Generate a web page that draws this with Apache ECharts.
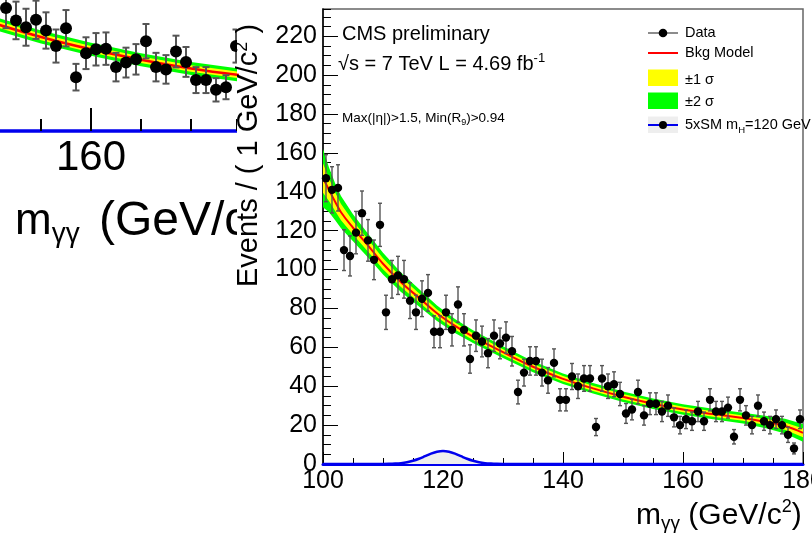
<!DOCTYPE html>
<html>
<head>
<meta charset="utf-8">
<script src="https://cdn.jsdelivr.net/npm/echarts@6/dist/echarts.min.js"></script>
<style>
  html, body { margin: 0; padding: 0; background: #fff; }
  #chart { width: 812px; height: 539px; }
</style>
</head>
<body>
<div id="chart"></div>
<script>
// ---------- main panel: diphoton mass, 1 GeV bins ----------
const massAxis = [100, 180, 20];     // min, max, major step
const eventAxis = [0, 234, 20];      // min, max, major step

const massBins = [
  100.5, 101.5, 102.5, 103.5, 104.5, 105.5, 106.5, 107.5, 108.5, 109.5,
  110.5, 111.5, 112.5, 113.5, 114.5, 115.5, 116.5, 117.5, 118.5, 119.5,
  120.5, 121.5, 122.5, 123.5, 124.5, 125.5, 126.5, 127.5, 128.5, 129.5,
  130.5, 131.5, 132.5, 133.5, 134.5, 135.5, 136.5, 137.5, 138.5, 139.5,
  140.5, 141.5, 142.5, 143.5, 144.5, 145.5, 146.5, 147.5, 148.5, 149.5,
  150.5, 151.5, 152.5, 153.5, 154.5, 155.5, 156.5, 157.5, 158.5, 159.5,
  160.5, 161.5, 162.5, 163.5, 164.5, 165.5, 166.5, 167.5, 168.5, 169.5,
  170.5, 171.5, 172.5, 173.5, 174.5, 175.5, 176.5, 177.5, 178.5, 179.5
];
const events = [
  147, 141, 142, 110, 107, 119, 129, 115, 105, 123,
  78, 95, 97, 95, 84, 78, 85, 88, 68, 68,
  78, 69, 82, 69, 54, 66, 63, 57, 66, 62,
  65, 58, 37, 47, 53, 53, 47, 43, 52, 33,
  33, 45, 40, 44, 44, 19, 44, 40, 41, 36,
  26, 28, 37, 25, 31, 31, 27, 30, 24, 20,
  23, 22, 27, 22, 33, 27, 27, 29, 14, 33,
  25, 20, 30, 22, 20, 23, 20, 15, 8, 23
];
const eventErr = [
  12.1, 11.9, 11.9, 10.5, 10.3, 10.9, 11.4, 10.7, 10.2, 11.1,
  8.8, 9.7, 9.8, 9.7, 9.2, 8.8, 9.2, 9.4, 8.2, 8.2,
  8.8, 8.3, 9.1, 8.3, 7.3, 8.1, 7.9, 7.5, 8.1, 7.9,
  8.1, 7.6, 6.1, 6.9, 7.3, 7.3, 6.9, 6.6, 7.2, 5.7,
  5.7, 6.7, 6.3, 6.6, 6.6, 4.4, 6.6, 6.3, 6.4, 6.0,
  5.1, 5.3, 6.1, 5.0, 5.6, 5.6, 5.2, 5.5, 4.9, 4.5,
  4.8, 4.7, 5.2, 4.7, 5.7, 5.2, 5.2, 5.4, 3.7, 5.7,
  5.0, 4.5, 5.5, 4.7, 4.5, 4.8, 4.5, 3.9, 2.8, 4.8
];

// background model and its uncertainty bands (half widths)
const bkgMass = [100, 101, 102, 103, 105, 108, 110, 113, 116, 119, 122, 125, 130, 135, 140, 145, 150, 155, 160, 165, 170, 174, 177, 180];
const bkgFit  = [147, 141, 135, 129.5, 121.5, 110.5, 103, 93.5, 85.5, 77.5, 71, 65.5, 57.5, 50, 43.8, 38.9, 34.6, 31, 28, 25.7, 23.6, 21.5, 19.5, 16];
const bkgTwoSigma = [15, 11.5, 9.5, 8.3, 6.9, 6, 5.6, 5, 4.5, 4, 3.6, 3.3, 3, 2.8, 2.7, 2.7, 2.7, 2.7, 2.7, 2.7, 2.8, 3.2, 3.8, 4.6];
const bkgOneSigma = [7.5, 5.8, 4.8, 4.2, 3.5, 3, 2.8, 2.5, 2.3, 2, 1.8, 1.7, 1.5, 1.4, 1.4, 1.4, 1.4, 1.4, 1.4, 1.4, 1.4, 1.6, 1.9, 2.3];

// 5 x SM signal, mH = 120 GeV
const sigMass  = [100, 108, 110, 111, 112, 113, 114, 115, 116, 117, 118, 119, 120, 121, 122, 123, 124, 125, 126, 127, 128, 129, 130, 132, 180];
const sigCurve = [0, 0, 0.03, 0.08, 0.2, 0.43, 0.9, 1.65, 2.7, 4.0, 5.3, 6.3, 6.7, 6.3, 5.3, 4.0, 2.7, 1.65, 0.9, 0.43, 0.2, 0.08, 0.03, 0, 0];

// ---------- neighbouring panel (partly visible on the left) ----------
const sideAxis = [140, 174.6, 20];
const sideBins = [151.5, 152.5, 153.5, 154.5, 155.5, 156.5, 157.5, 158.5, 159.5, 160.5, 161.5, 162.5,
                  163.5, 164.5, 165.5, 166.5, 167.5, 168.5, 169.5, 170.5, 171.5, 172.5, 173.5, 174.5];
const sideEvents = [37.9, 34.1, 32.0, 34.3, 31.0, 26.2, 31.7, 16.6, 24.0, 25.2, 25.4, 19.7,
                    21.1, 22.1, 27.7, 19.7, 19.0, 24.5, 21.3, 15.7, 15.7, 12.7, 13.5, 26.2];
const sideErr = [6.2, 5.8, 5.7, 5.9, 5.6, 5.1, 5.6, 4.1, 4.9, 5.0, 5.0, 4.4,
                 4.6, 4.7, 5.3, 4.4, 4.4, 4.9, 4.6, 4.0, 4.0, 3.6, 3.7, 5.1];
const sideBkgMass = [150, 155, 160, 165, 170, 175];
const sideBkgFit = [33.5, 29, 25.2, 22, 19.3, 17.2];
const sideTwoSigma = [2, 2, 2, 2, 2, 2];
const sideOneSigma = [1, 1, 1, 1, 1, 1];

const FONT = 'Liberation Sans';
const GREEN = '#00ff00', YELLOW = '#ffff00', RED = '#ff0000', BLUE = '#0000ee';

// ---------- helpers ----------
const mctx = document.createElement('canvas').getContext('2d');
function textW(t, s) { mctx.font = s + 'px "' + FONT + '"'; return mctx.measureText(t).width; }
function textRun(x, y, parts, z) {
  let cx = x;
  const els = [];
  parts.forEach(p => {
    cx += p.gap || 0;
    els.push({
      type: 'text', x: cx, y: y + (p.dy || 0), z: z, silent: true,
      style: { text: p.t, fontSize: p.s, fontFamily: FONT, fill: '#000',
               textAlign: 'left', textVerticalAlign: 'middle', align: 'left', verticalAlign: 'middle' }
    });
    cx += textW(p.t, p.s);
  });
  return els;
}
function bandRenderer(xs, mid, half, color) {
  return function (params, api) {
    const upper = xs.map((x, i) => api.coord([x, mid[i] + half[i]]));
    const lower = xs.map((x, i) => api.coord([x, mid[i] - half[i]])).reverse();
    return { type: 'polygon', silent: true, shape: { points: upper.concat(lower) }, style: { fill: color } };
  };
}
function errRenderer(color, width, cap) {
  return function (params, api) {
    const x = api.value(0), y = api.value(1), e = api.value(2);
    const top = api.coord([x, y + e]);
    const bot = api.coord([x, y - e]);
    const st = { stroke: color, lineWidth: width };
    return { type: 'group', silent: true, children: [
      { type: 'line', shape: { x1: top[0], y1: top[1], x2: bot[0], y2: bot[1] }, style: st },
      { type: 'line', shape: { x1: top[0] - cap, y1: top[1], x2: top[0] + cap, y2: top[1] }, style: st },
      { type: 'line', shape: { x1: bot[0] - cap, y1: bot[1], x2: bot[0] + cap, y2: bot[1] }, style: st }
    ] };
  };
}
function dotRenderer(r) {
  return function (params, api) {
    const c = api.coord([api.value(0), api.value(1)]);
    return { type: 'circle', silent: true, shape: { cx: c[0], cy: c[1], r: r }, style: { fill: '#000' } };
  };
}
const zip = (a, b) => a.map((v, i) => [v, b[i]]);
const zip3 = (a, b, c) => a.map((v, i) => [v, b[i], c[i]]);

// ---------- text & legend ----------
const graphics = [];
// white panel separating the two figures
graphics.push({ type: 'rect', z: 1, silent: true, shape: { x: 237, y: 0, width: 575, height: 539 }, style: { fill: '#fff' } });

// side panel axis title
graphics.push(...textRun(15, 222, [{ t: 'm', s: 44 }, { t: 'γγ', s: 28, dy: 12 }], 0));
graphics.push(...textRun(99, 222, [{ t: '(GeV/c', s: 48 }, { t: '2', s: 28, dy: -14 }, { t: ')', s: 48 }], 0));

// main panel axis titles
graphics.push(...textRun(636, 516, [
  { t: 'm', s: 30 }, { t: 'γγ', s: 19, dy: 8 }, { t: ' (GeV/c', s: 30 }, { t: '2', s: 18, dy: -9 }, { t: ')', s: 30 }
], 10));
graphics.push({
  type: 'group', x: 249, y: 287, rotation: Math.PI / 2, z: 10,
  children: textRun(0, 0, [
    { t: 'Events / ( 1 GeV/c', s: 29 }, { t: '2', s: 18, dy: -7 }, { t: ' )', s: 29 }
  ], 10)
});

// annotations
graphics.push(...textRun(342, 34, [{ t: 'CMS preliminary', s: 20 }], 10));
graphics.push(...textRun(338, 64, [{ t: '√s = 7 TeV L = 4.69 fb', s: 20 }, { t: '-1', s: 13, dy: -6 }], 10));
graphics.push(...textRun(342, 118, [{ t: 'Max(|η|)>1.5, Min(R', s: 13.5 }, { t: '9', s: 9, dy: 5 }, { t: ')>0.94', s: 13.5 }], 10));

// legend
const LX0 = 648, LX1 = 678, LXC = 663, LT = 685;
graphics.push({ type: 'line', z: 10, silent: true, shape: { x1: LX0, y1: 33, x2: LX1, y2: 33 }, style: { stroke: '#666', lineWidth: 1.5 } });
graphics.push({ type: 'circle', z: 10, silent: true, shape: { cx: LXC, cy: 33, r: 4.3 }, style: { fill: '#000' } });
graphics.push({ type: 'line', z: 10, silent: true, shape: { x1: LX0, y1: 53, x2: LX1, y2: 53 }, style: { stroke: RED, lineWidth: 2 } });
graphics.push({ type: 'rect', z: 10, silent: true, shape: { x: LX0, y: 69.5, width: 30, height: 16.5 }, style: { fill: YELLOW } });
graphics.push({ type: 'rect', z: 10, silent: true, shape: { x: LX0, y: 92.5, width: 30, height: 16.5 }, style: { fill: GREEN } });
graphics.push({ type: 'rect', z: 10, silent: true, shape: { x: LX0, y: 116.5, width: 30, height: 16.5 }, style: { fill: '#eeeeee' } });
graphics.push({ type: 'line', z: 10, silent: true, shape: { x1: LX0, y1: 125, x2: LX1, y2: 125 }, style: { stroke: BLUE, lineWidth: 2 } });
graphics.push({ type: 'circle', z: 10, silent: true, shape: { cx: LXC, cy: 125, r: 4 }, style: { fill: '#000' } });
graphics.push(...textRun(LT, 33, [{ t: 'Data', s: 14.5 }], 10));
graphics.push(...textRun(LT, 53, [{ t: 'Bkg Model', s: 14.5 }], 10));
graphics.push(...textRun(LT, 80, [{ t: '±1 σ', s: 14.5 }], 10));
graphics.push(...textRun(LT, 102, [{ t: '±2 σ', s: 14.5 }], 10));
graphics.push(...textRun(LT, 125, [{ t: '5xSM m', s: 14.5 }, { t: 'H', s: 9.5, dy: 5 }, { t: '=120 GeV', s: 14.5 }], 10));

// ---------- axes ----------
const noSplit = { show: false };
const option = {
  animation: false,
  backgroundColor: '#fff',
  grid: [
    { left: -109, top: 0, width: 346, height: 131, show: false, containLabel: false, outerBoundsMode: 'none' },
    { left: 323, top: 9, width: 480, height: 455, show: true, z: 3, borderColor: '#666', borderWidth: 1.5,
      backgroundColor: 'transparent', containLabel: false, outerBoundsMode: 'none' }
  ],
  xAxis: [
    { gridIndex: 0, type: 'value', position: 'bottom', min: sideAxis[0], max: sideAxis[1], interval: sideAxis[2],
      axisLine: { show: true, onZero: false, lineStyle: { color: BLUE, width: 3.5 } },
      axisTick: { show: true, inside: true, length: 23, lineStyle: { color: '#000', width: 2 } },
      axisLabel: { show: true, fontSize: 42, fontFamily: FONT, color: '#000', margin: 6, showMinLabel: false, showMaxLabel: false },
      splitLine: noSplit },
    { gridIndex: 0, type: 'value', position: 'bottom', offset: 0, min: sideAxis[0], max: sideAxis[1], interval: 5,
      axisLine: { show: false }, axisLabel: { show: false },
      axisTick: { show: true, inside: true, length: 12, lineStyle: { color: '#000', width: 2 } },
      splitLine: noSplit },
    { gridIndex: 1, type: 'value', position: 'bottom', z: 3, min: massAxis[0], max: massAxis[1], interval: massAxis[2],
      axisLine: { show: true, onZero: false, lineStyle: { color: BLUE, width: 3 } },
      axisTick: { show: true, inside: true, length: 12, lineStyle: { color: '#000', width: 1 } },
      minorTick: { show: true, splitNumber: 4, length: 6, lineStyle: { color: '#000', width: 1 } },
      axisLabel: { fontSize: 25, fontFamily: FONT, color: '#000', margin: 5, showMinLabel: true, showMaxLabel: true },
      splitLine: noSplit, minorSplitLine: noSplit }
  ],
  yAxis: [
    { gridIndex: 0, type: 'value', min: 0, max: 40.4, show: false, splitLine: noSplit },
    { gridIndex: 1, type: 'value', position: 'left', z: 3, min: eventAxis[0], max: eventAxis[1], interval: eventAxis[2],
      axisLine: { show: true, onZero: false, lineStyle: { color: '#000', width: 1.5 } },
      axisTick: { show: true, inside: true, length: 15, lineStyle: { color: '#000', width: 1 } },
      axisLabel: { fontSize: 25, fontFamily: FONT, color: '#000', margin: 6, showMaxLabel: false },
      splitLine: noSplit },
    { gridIndex: 1, type: 'value', position: 'left', offset: 0, z: 3, min: eventAxis[0], max: eventAxis[1], interval: 5,
      axisLine: { show: false }, axisLabel: { show: false },
      axisTick: { show: true, inside: true, length: 8, lineStyle: { color: '#000', width: 1 } },
      splitLine: noSplit }
  ],
  series: [
    // side panel
    { type: 'custom', xAxisIndex: 0, yAxisIndex: 0, z: 3, clip: true, encode: { x: 0, y: 1 },
      data: [[sideBkgMass[0], sideBkgFit[0]]], renderItem: bandRenderer(sideBkgMass, sideBkgFit, sideTwoSigma, GREEN) },
    { type: 'custom', xAxisIndex: 0, yAxisIndex: 0, z: 3, clip: true, encode: { x: 0, y: 1 },
      data: [[sideBkgMass[0], sideBkgFit[0]]], renderItem: bandRenderer(sideBkgMass, sideBkgFit, sideOneSigma, YELLOW) },
    { type: 'line', xAxisIndex: 0, yAxisIndex: 0, z: 4, clip: true, smooth: 0.4, symbol: 'none', silent: true,
      data: zip(sideBkgMass, sideBkgFit), lineStyle: { color: RED, width: 2.5 } },
    { type: 'custom', xAxisIndex: 0, yAxisIndex: 0, z: 5, clip: true, encode: { x: 0, y: 1 },
      data: zip3(sideBins, sideEvents, sideErr), renderItem: errRenderer('#555', 2, 3.5) },
    { type: 'custom', xAxisIndex: 0, yAxisIndex: 0, z: 6, clip: true, encode: { x: 0, y: 1 },
      data: zip(sideBins, sideEvents), renderItem: dotRenderer(6) },

    // main panel
    { type: 'line', xAxisIndex: 2, yAxisIndex: 1, z: 4, smooth: 0.3, symbol: 'none', silent: true,
      data: zip(sigMass, sigCurve), lineStyle: { color: BLUE, width: 2.5 },
      areaStyle: { color: '#eeeeee', opacity: 1 } },
    { type: 'custom', xAxisIndex: 2, yAxisIndex: 1, z: 4, clip: true, encode: { x: 0, y: 1 },
      data: [[bkgMass[0], bkgFit[0]]], renderItem: bandRenderer(bkgMass, bkgFit, bkgTwoSigma, GREEN) },
    { type: 'custom', xAxisIndex: 2, yAxisIndex: 1, z: 4, clip: true, encode: { x: 0, y: 1 },
      data: [[bkgMass[0], bkgFit[0]]], renderItem: bandRenderer(bkgMass, bkgFit, bkgOneSigma, YELLOW) },
    { type: 'line', xAxisIndex: 2, yAxisIndex: 1, z: 5, smooth: 0.4, symbol: 'none', silent: true,
      data: zip(bkgMass, bkgFit), lineStyle: { color: RED, width: 2 } },
    { type: 'custom', xAxisIndex: 2, yAxisIndex: 1, z: 6, encode: { x: 0, y: 1 },
      data: zip3(massBins, events, eventErr), renderItem: errRenderer('#555', 1.4, 2) },
    { type: 'custom', xAxisIndex: 2, yAxisIndex: 1, z: 7, encode: { x: 0, y: 1 },
      data: zip(massBins, events), renderItem: dotRenderer(4.2) }
  ],
  graphic: { elements: graphics }
};

const chart = echarts.init(document.getElementById('chart'));
chart.setOption(option);
</script>
</body>
</html>
